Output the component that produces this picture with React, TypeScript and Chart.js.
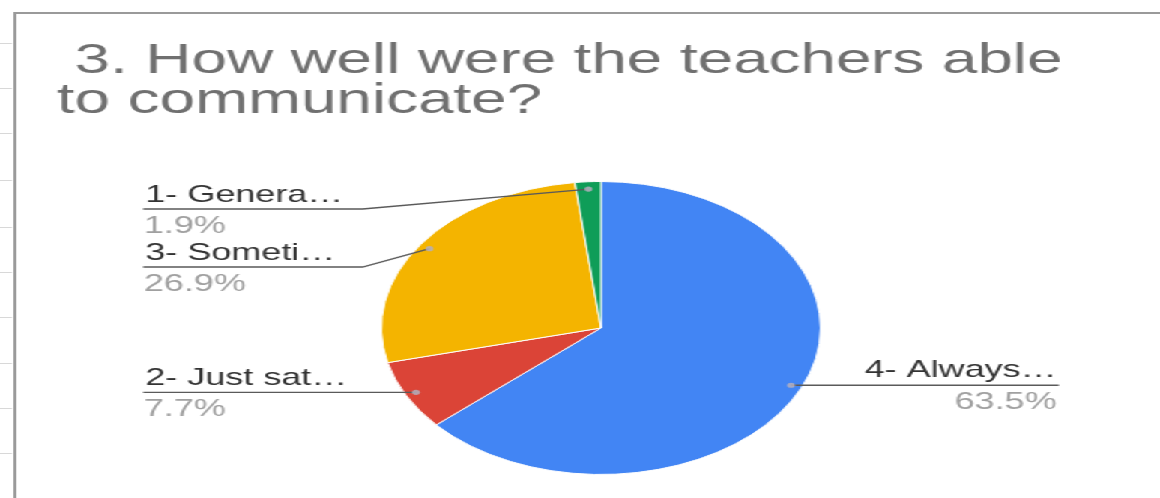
import { useEffect, useRef } from "react";
import { Chart, registerables } from "chart.js";

Chart.register(...registerables);

// ---- data ----
const categories = ["4- Always…", "2- Just sat…", "3- Someti…", "1- Genera…"];
const percentages = [63.5, 7.7, 26.9, 1.9];
const titleLines = [" 3. How well were the teachers able", "to communicate?"];

// ---- style ----
const sliceColors = ["#4285F4", "#DB4437", "#F4B400", "#0F9D58"];
const FONT = '"Liberation Sans", Arial, sans-serif';
const W = 774;
const H = 498;
const SX = 1160 / W;
const gridTickYs = [43, 88, 133, 180, 227, 272, 317, 363, 408, 453];

const decorPlugin = {
  id: "decor",
  beforeDraw(chart: any) {
    const ctx = chart.ctx;
    ctx.save();
    ctx.fillStyle = "#ffffff";
    ctx.fillRect(0, 0, chart.width, chart.height);
    // faint sheet grid marks at left
    ctx.strokeStyle = "#d8d8d8";
    ctx.lineWidth = 1;
    gridTickYs.forEach((y) => {
      ctx.beginPath();
      ctx.moveTo(0, y + 0.5);
      ctx.lineTo(8, y + 0.5);
      ctx.stroke();
    });
    // frame
    ctx.strokeStyle = "#9a9a9a";
    ctx.lineWidth = 2;
    ctx.beginPath();
    ctx.moveTo(10, chart.height);
    ctx.lineTo(10, 13);
    ctx.lineTo(chart.width, 13);
    ctx.stroke();
    // title
    ctx.fillStyle = "#707070";
    ctx.font = `42.5px ${FONT}`;
    ctx.textAlign = "left";
    ctx.textBaseline = "alphabetic";
    ctx.fillText(titleLines[0], 38, 73);
    ctx.fillText(titleLines[1], 38, 113);
    ctx.restore();
  },
  afterDatasetsDraw(chart: any) {
    const ctx = chart.ctx;
    const meta = chart.getDatasetMeta(0);
    const data = chart.data.datasets[0].data as number[];
    const top = chart.chartArea.top;
    const items = meta.data.map((arc: any, i: number) => {
      const p = arc.getProps(["x", "y", "startAngle", "endAngle", "outerRadius"], true);
      const mid = (p.startAngle + p.endAngle) / 2;
      const r = p.outerRadius * 0.95;
      return {
        i,
        dx: p.x + Math.cos(mid) * r,
        dy: p.y + Math.sin(mid) * r,
        left: Math.cos(mid) < 0,
      };
    });
    const layout = (list: any[]) => {
      list.sort((a, b) => a.dy - b.dy);
      let prev = -Infinity;
      list.forEach((it) => {
        it.uy = Math.max(it.dy, top + 28, prev + 58);
        prev = it.uy;
      });
    };
    const leftItems = items.filter((it: any) => it.left);
    const rightItems = items.filter((it: any) => !it.left);
    layout(leftItems);
    layout(rightItems);

    ctx.save();
    ctx.lineWidth = 1.3;
    ctx.strokeStyle = "#5a5a5a";
    const LX0 = 95.5, LX1 = 242, RX1 = 706.5, RX0 = 560;
    leftItems.forEach((it: any) => {
      ctx.beginPath();
      ctx.moveTo(LX0, it.uy);
      ctx.lineTo(LX1, it.uy);
      ctx.lineTo(it.dx, it.dy);
      ctx.stroke();
    });
    rightItems.forEach((it: any) => {
      ctx.beginPath();
      ctx.moveTo(RX1, it.uy);
      ctx.lineTo(RX0, it.uy);
      ctx.lineTo(it.dx, it.dy);
      ctx.stroke();
    });
    // dots
    items.forEach((it: any) => {
      ctx.fillStyle = "rgba(180,175,190,0.85)";
      ctx.beginPath();
      ctx.arc(it.dx, it.dy, 2.6, 0, Math.PI * 2);
      ctx.fill();
    });
    // text
    ctx.font = `24px ${FONT}`;
    ctx.textBaseline = "alphabetic";
    leftItems.forEach((it: any) => {
      ctx.textAlign = "left";
      ctx.fillStyle = "#333333";
      ctx.fillText(categories[it.i], 97, it.uy - 7);
      ctx.fillStyle = "#a0a0a0";
      ctx.fillText(data[it.i].toFixed(1) + "%", 96, it.uy + 24);
    });
    rightItems.forEach((it: any) => {
      ctx.textAlign = "right";
      ctx.fillStyle = "#333333";
      ctx.fillText(categories[it.i], 705, it.uy - 8);
      ctx.fillStyle = "#a0a0a0";
      ctx.fillText(data[it.i].toFixed(1) + "%", 705, it.uy + 24);
    });
    ctx.restore();
  },
};

export default function App() {
  const ref = useRef<HTMLCanvasElement | null>(null);
  useEffect(() => {
    if (!ref.current) return;
    const chart = new Chart(ref.current, {
      type: "pie",
      data: {
        labels: categories,
        datasets: [
          {
            data: percentages,
            backgroundColor: sliceColors,
            borderColor: "#ffffff",
            borderWidth: 1,
          },
        ],
      },
      options: {
        responsive: false,
        devicePixelRatio: 1,
        animation: false,
        layout: { padding: { left: 254, right: 226, top: 181, bottom: 23 } },
        plugins: {
          legend: { display: false },
          tooltip: { enabled: false },
          title: { display: false },
        },
      },
      plugins: [decorPlugin],
    });
    return () => chart.destroy();
  }, []);
  return (
    <div
      style={{
        position: "fixed",
        left: 0,
        top: 0,
        width: W,
        height: H,
        transform: `scaleX(${SX})`,
        transformOrigin: "0 0",
        background: "#fff",
      }}
    >
      <canvas ref={ref} width={W} height={H} style={{ display: "block", width: W, height: H }} />
    </div>
  );
}
